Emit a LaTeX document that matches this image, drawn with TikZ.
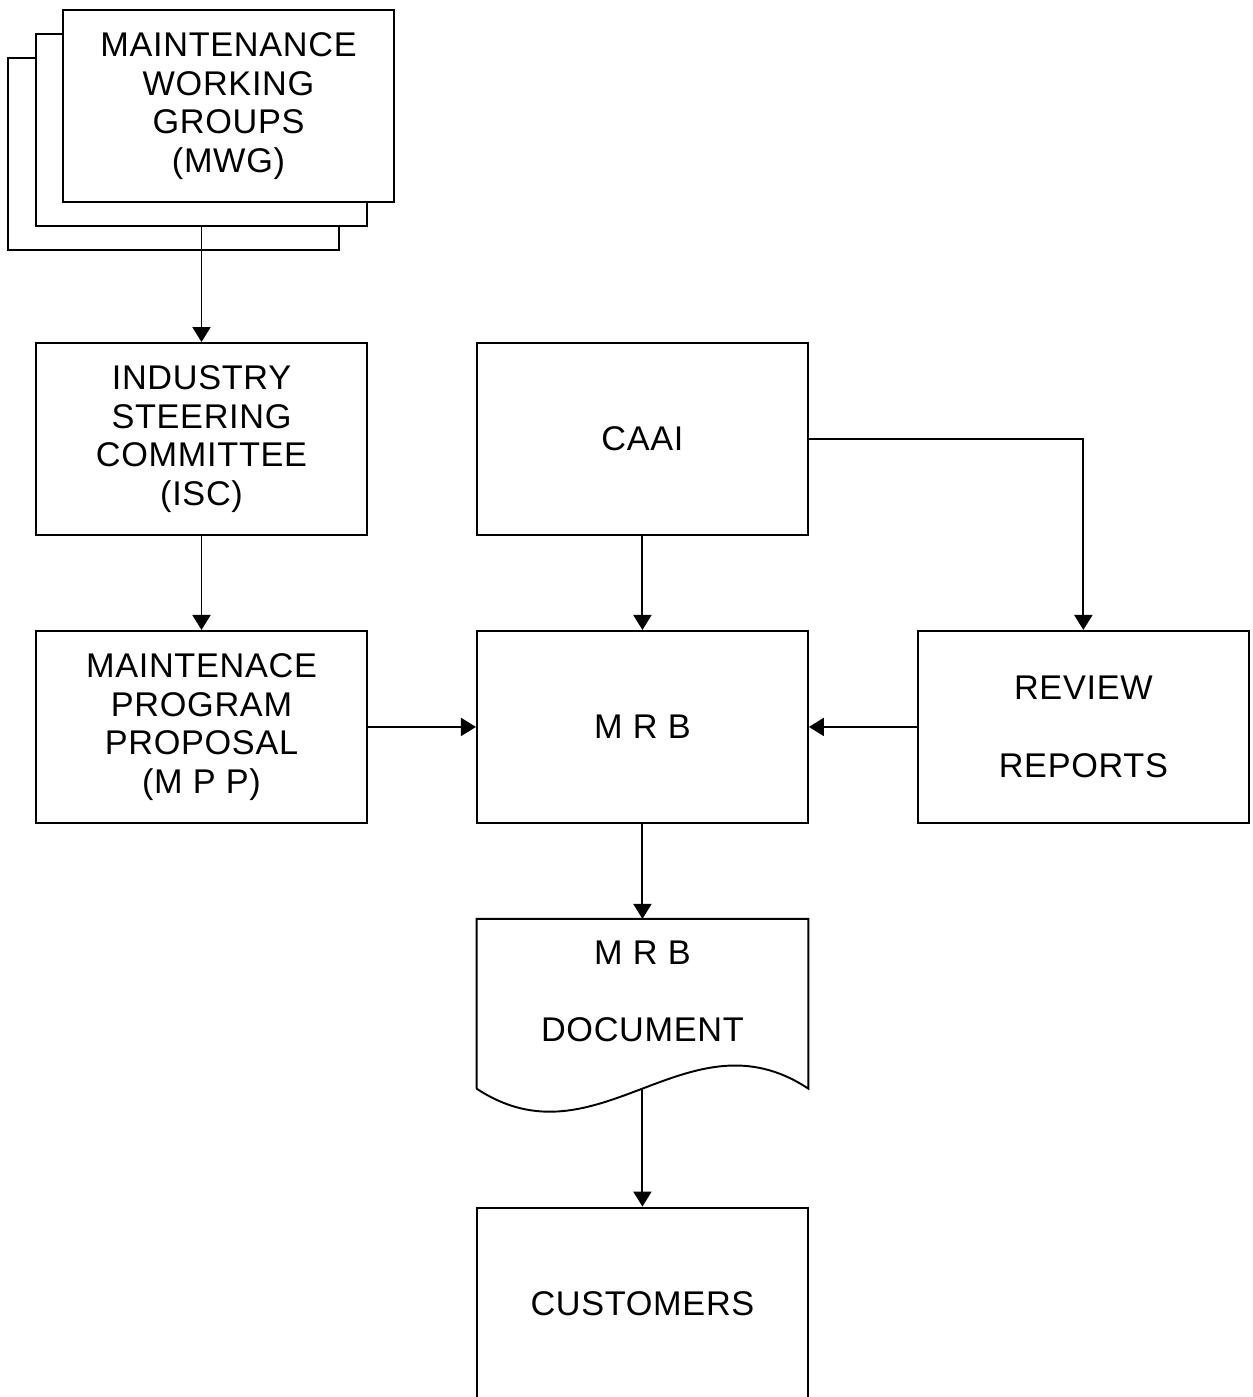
\documentclass[tikz,border=0pt]{standalone}
\usepackage{fontspec}
\setmainfont{Liberation Sans}[LetterSpace=2]
\usepackage{tikz}
\usetikzlibrary{arrows.meta, positioning}

\begin{document}
\begin{tikzpicture}[
  node distance=1.88cm and 2.16cm,
  font=\fontsize{19.5}{22}\selectfont,
  box/.style={draw, fill=white, line width=1.1pt, align=center, inner sep=0pt, minimum width=6.62cm, minimum height=3.84cm},
  docbox/.style={align=center, inner sep=0pt, minimum width=6.62cm, minimum height=3.38cm},
  arrow/.style={-{Triangle[length=0.3cm, width=0.36cm]}, line width=1.1pt}
]
\clip (-4.03,-19.16) rectangle (21.03,8.78);

\node[box] (isc) {INDUSTRY\\STEERING\\COMMITTEE\\(ISC)};
\node[box, right=of isc] (caai) {CAAI};
\node[box, below=of isc] (mpp) {MAINTENACE\\PROGRAM\\PROPOSAL\\(M P P)};
\node[box, below=of caai] (mrb) {M R B};
\node[box, right=of mrb] (review) {REVIEW\\[22pt]REPORTS};
\node[docbox, below=1.9cm of mrb] (doc) {};
\node[box, below=2.36cm of doc] (cust) {CUSTOMERS};

% stacked working groups
\coordinate[above=2.3cm of isc.north] (mwgfoot);
\node[box, anchor=south] (mwgback) at ([xshift=-0.56cm, yshift=-0.48cm]mwgfoot) {};
\node[box, anchor=south] (mwgmid) at (mwgfoot) {};
\node[box, anchor=south] (mwg) at ([xshift=0.54cm, yshift=0.48cm]mwgfoot) {MAINTENANCE\\WORKING\\GROUPS\\(MWG)};

% document shape
\draw[line width=1.1pt] (doc.south west) -- (doc.north west) -- (doc.north east) -- (doc.south east)
  .. controls +(-2.42,1.6) and +(2.42,-1.6) .. (doc.south west);
\node[align=center] (doclabel) at ([yshift=0.25cm]doc.center) {M R B\\[22pt]DOCUMENT};

\draw[arrow] (mwgmid) -- (isc);
\draw[arrow] (isc) -- (mpp);
\draw[arrow] (caai) -- (mrb);
\draw[arrow] (caai.east) -| (review.north);
\draw[arrow] (mpp) -- (mrb);
\draw[arrow] (review) -- (mrb);
\draw[arrow] (mrb) -- (doc.north);
\draw[arrow] (doc.south) -- (cust);
\end{tikzpicture}
\end{document}
